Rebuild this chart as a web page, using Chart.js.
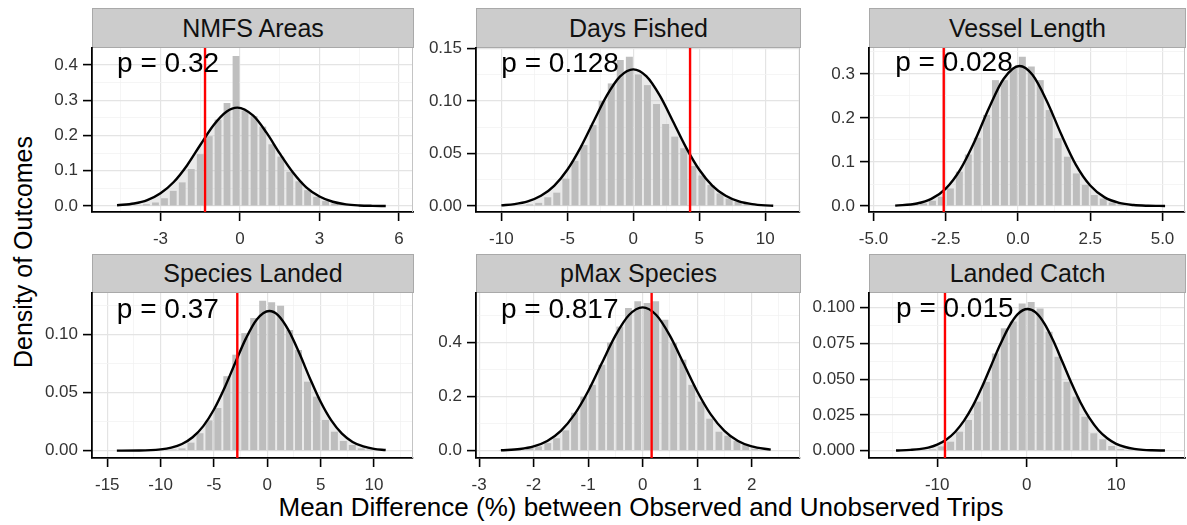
<!DOCTYPE html>
<html>
<head>
<meta charset="utf-8">
<script src="https://cdn.jsdelivr.net/npm/chart.js@4.4.0/dist/chart.umd.min.js"></script>
<style>
  html, body { margin: 0; padding: 0; background: #fff; overflow: hidden; }
  body { width: 1187px; height: 525px; position: relative; font-family: "Liberation Sans", Arial, sans-serif; }
  canvas { position: absolute; }
  .strip { position: absolute; box-sizing: border-box; background: #cccccc; border: 1px solid #a9a9a9;
           color: #111; font-size: 25px; text-align: center; white-space: nowrap; }
  .axis-title { position: absolute; font-size: 26px; color: #000; white-space: nowrap; }
</style>
</head>
<body>
<div class="axis-title" style="left:23px; top:252px; font-size:25px; transform: translate(-50%, -50%) rotate(-90deg);">Density of Outcomes</div>
<div class="axis-title" style="left:641px; top:507px; transform: translate(-50%, -50%);">Mean Difference (%) between Observed and Unobserved Trips</div>
<script>
// Facet text
const facetTitles = ['NMFS Areas', 'Days Fished', 'Vessel Length', 'Species Landed', 'pMax Species', 'Landed Catch'];
const pValueLabels = ['p = 0.32', 'p = 0.128', 'p = 0.028', 'p = 0.37', 'p = 0.817', 'p = 0.015'];
// Observed difference (red line) and where the p label sits, in data units
const observedDiffs = [-1.32, 4.3, -2.57, -2.81, 0.165, -9.13];
const pTextX = [-4.64, -10.0, -4.25, -14.1, -2.6, -14.6];
const pTextY = [0.403, 0.135, 0.324, 0.121, 0.519, 0.0991];

// NMFS Areas
const nmfsBins = [-4.54, -4.21, -3.87, -3.53, -3.19, -2.85, -2.52, -2.18, -1.84, -1.50, -1.16, -0.83, -0.49, -0.15, 0.19,
  0.53, 0.86, 1.20, 1.54, 1.88, 2.22, 2.55, 2.89, 3.23, 3.57, 3.91, 4.24, 4.58, 4.92, 5.26];
const nmfsDensity = [0.000, 0.001, 0.002, 0.005, 0.010, 0.022, 0.043, 0.067, 0.105, 0.147, 0.198, 0.245, 0.292, 0.425, 0.270,
  0.255, 0.225, 0.175, 0.140, 0.097, 0.070, 0.045, 0.026, 0.014, 0.007, 0.003, 0.001, 0.001, 0.000, 0.000];
const nmfsCurveX = [-4.64, -4, -3.5, -3, -2.5, -2, -1.5, -1, -0.5, -0.1, 0.5, 1, 1.5, 2, 2.5, 3, 3.5, 4, 4.5, 5, 5.5];
const nmfsCurveY = [0.002, 0.007, 0.0165, 0.036, 0.068, 0.115, 0.173, 0.229, 0.268, 0.279, 0.256, 0.208, 0.149, 0.095,
  0.053, 0.027, 0.012, 0.0046, 0.0016, 0.0005, 0.0001];

// Days Fished
const daysBins = [-9.92, -9.23, -8.54, -7.86, -7.17, -6.48, -5.80, -5.11, -4.42, -3.74, -3.05, -2.36, -1.67, -0.99, -0.30,
  0.39, 1.07, 1.76, 2.45, 3.14, 3.82, 4.51, 5.20, 5.88, 6.57, 7.26, 7.94, 8.63, 9.32, 10.01];
const daysDensity = [0.0000, 0.0003, 0.0006, 0.0015, 0.003, 0.0083, 0.0127, 0.026, 0.043, 0.058, 0.077, 0.100, 0.1166, 0.139, 0.142,
  0.125, 0.115, 0.097, 0.078, 0.066, 0.055, 0.038, 0.029, 0.020, 0.012, 0.007, 0.004, 0.002, 0.001, 0.0003];
const daysCurveX = [-10, -9, -8, -7, -6, -5, -4, -3, -2, -1, 0, 1, 2, 3, 4, 5, 6, 7, 8, 9, 10, 10.6];
const daysCurveY = [0.0006, 0.0018, 0.0044, 0.0097, 0.0192, 0.0345, 0.0556, 0.0807, 0.1052, 0.1233, 0.130, 0.1233,
  0.1052, 0.0807, 0.0556, 0.0345, 0.0192, 0.0097, 0.0044, 0.0018, 0.0006, 0.0003];

// Vessel Length
const vesselBins = [-4.20, -3.89, -3.58, -3.27, -2.96, -2.65, -2.34, -2.03, -1.72, -1.41, -1.09, -0.78, -0.47, -0.16, 0.15,
  0.46, 0.77, 1.08, 1.39, 1.71, 2.02, 2.33, 2.64, 2.95, 3.26, 3.57, 3.88, 4.19, 4.50, 4.82];
const vesselDensity = [0.001, 0.002, 0.004, 0.006, 0.012, 0.021, 0.040, 0.078, 0.117, 0.155, 0.207, 0.286, 0.286, 0.314, 0.339,
  0.317, 0.286, 0.218, 0.154, 0.112, 0.074, 0.048, 0.025, 0.017, 0.008, 0.004, 0.002, 0.001, 0.0005, 0.000];
const vesselCurveX = [-4.25, -3.5, -3, -2.5, -2, -1.5, -1, -0.5, 0.05, 0.5, 1, 1.5, 2, 2.5, 3, 3.5, 4, 4.5, 5.09];
const vesselCurveY = [0.0009, 0.0057, 0.0162, 0.0397, 0.0829, 0.1474, 0.2234, 0.2887, 0.318, 0.298, 0.2382, 0.1623,
  0.0942, 0.0466, 0.0196, 0.0071, 0.0022, 0.0006, 0.0001];

// Species Landed
const speciesBins = [-13.87, -13.03, -12.19, -11.35, -10.51, -9.67, -8.83, -7.99, -7.15, -6.31, -5.47, -4.63, -3.79, -2.95, -2.11,
  -1.27, -0.43, 0.41, 1.25, 2.09, 2.93, 3.77, 4.61, 5.45, 6.29, 7.13, 7.97, 8.81, 9.65, 10.49];
const speciesDensity = [0, 0, 0, 0.0002, 0.0005, 0.001, 0.001, 0.002, 0.0069, 0.015, 0.026, 0.0367, 0.064, 0.0825, 0.101,
  0.114, 0.1289, 0.1275, 0.1245, 0.1037, 0.0865, 0.0593, 0.0464, 0.0264, 0.0163, 0.0083, 0.0049, 0.002, 0.001, 0.0005];
const speciesCurveX = [-14.1, -12, -10, -9, -8, -7, -6, -5, -4, -3, -2, -1, 0.19, 1, 2, 3, 4, 5, 6, 7, 8, 9, 10, 11.1];
const speciesCurveY = [0.0000, 0.0001, 0.0011, 0.0026, 0.0057, 0.0115, 0.0211, 0.0354, 0.0541, 0.0756, 0.0965, 0.1126,
  0.120, 0.1165, 0.1034, 0.0839, 0.0621, 0.0420, 0.0260, 0.0146, 0.0075, 0.0036, 0.0015, 0.0006];

// pMax Species
const pmaxBins = [-2.57, -2.40, -2.24, -2.07, -1.91, -1.74, -1.58, -1.41, -1.25, -1.08, -0.92, -0.75, -0.59, -0.42, -0.26,
  -0.09, 0.08, 0.24, 0.41, 0.57, 0.74, 0.90, 1.07, 1.23, 1.40, 1.56, 1.73, 1.89, 2.06, 2.22];
const pmaxDensity = [0.001, 0.003, 0.006, 0.012, 0.016, 0.028, 0.046, 0.075, 0.140, 0.199, 0.243, 0.317, 0.399, 0.458, 0.527,
  0.552, 0.545, 0.552, 0.483, 0.397, 0.336, 0.243, 0.181, 0.118, 0.070, 0.055, 0.036, 0.021, 0.007, 0.003];
const pmaxCurveX = [-2.6, -2.25, -2, -1.75, -1.5, -1.25, -1, -0.75, -0.5, -0.25, 0, 0.25, 0.5, 0.75, 1, 1.25, 1.5, 1.75, 2, 2.35];
const pmaxCurveY = [0.0014, 0.0062, 0.0157, 0.0358, 0.0731, 0.1338, 0.2194, 0.3225, 0.4246, 0.5007, 0.529, 0.5007,
  0.4246, 0.3225, 0.2194, 0.1338, 0.0731, 0.0358, 0.0157, 0.0041];

// Landed Catch
const catchBins = [-14.5, -13.5, -12.5, -11.5, -10.5, -9.5, -8.5, -7.5, -6.5, -5.5, -4.5, -3.5, -2.5, -1.5, -0.5,
  0.5, 1.5, 2.5, 3.5, 4.5, 5.5, 6.5, 7.5, 8.5, 9.5, 10.5, 11.5, 12.5, 13.5, 14.5];
const catchDensity = [0, 0, 0.0002, 0.0005, 0.001, 0.003, 0.0063, 0.0133, 0.0215, 0.0343, 0.0482, 0.068, 0.0856, 0.0903, 0.103,
  0.104, 0.0995, 0.0832, 0.0657, 0.0482, 0.0378, 0.0238, 0.0122, 0.008, 0.0033, 0.0012, 0.0005, 0.0002, 0.0001, 0];
const catchCurveX = [-14.6, -13, -12, -11, -10, -9, -8, -7, -6, -5, -4, -3, -2, -1, 0.1, 1, 2, 3, 4, 5, 6, 7, 8, 9, 10, 11, 12, 13, 14, 15.45];
const catchCurveY = [0.0001, 0.0006, 0.0011, 0.0022, 0.0043, 0.0077, 0.0131, 0.021, 0.0315, 0.0445, 0.0591, 0.0737, 0.0865,
  0.0955, 0.0991, 0.0967, 0.0887, 0.0765, 0.0620, 0.0473, 0.0339, 0.0229, 0.0145, 0.0087, 0.0048, 0.0026, 0.0013, 0.0006, 0.0003, 0.0001];

// Axis limits and tick labels per facet
const xRanges = [[-5.585, 6.528], [-11.92, 12.63], [-5.156, 5.779], [-16.43, 13.66], [-3.057, 2.887], [-17.62, 17.69]];
const yRanges = [[-0.017, 0.448], [-0.0057, 0.1503], [-0.0136, 0.359], [-0.0063, 0.1355], [-0.027, 0.582], [-0.0051, 0.1103]];
const xMajorTicks = [[-3, 0, 3, 6], [-10, -5, 0, 5, 10], [-5, -2.5, 0, 2.5, 5], [-15, -10, -5, 0, 5, 10], [-3, -2, -1, 0, 1, 2], [-10, 0, 10]];
const xTickLabels = [['-3', '0', '3', '6'], ['-10', '-5', '0', '5', '10'], ['-5.0', '-2.5', '0.0', '2.5', '5.0'],
  ['-15', '-10', '-5', '0', '5', '10'], ['-3', '-2', '-1', '0', '1', '2'], ['-10', '0', '10']];
const yMajorTicks = [[0, 0.1, 0.2, 0.3, 0.4], [0, 0.05, 0.10, 0.15], [0, 0.1, 0.2, 0.3], [0, 0.05, 0.10], [0, 0.2, 0.4], [0, 0.025, 0.05, 0.075, 0.1]];
const yTickLabels = [['0.0', '0.1', '0.2', '0.3', '0.4'], ['0.00', '0.05', '0.10', '0.15'], ['0.0', '0.1', '0.2', '0.3'],
  ['0.00', '0.05', '0.10'], ['0.0', '0.2', '0.4'], ['0.000', '0.025', '0.050', '0.075', '0.100']];

const allBins = [nmfsBins, daysBins, vesselBins, speciesBins, pmaxBins, catchBins];
const allDensity = [nmfsDensity, daysDensity, vesselDensity, speciesDensity, pmaxDensity, catchDensity];
const allCurveX = [nmfsCurveX, daysCurveX, vesselCurveX, speciesCurveX, pmaxCurveX, catchCurveX];
const allCurveY = [nmfsCurveY, daysCurveY, vesselCurveY, speciesCurveY, pmaxCurveY, catchCurveY];

// Page layout (pixels): plot areas of the 3x2 grid
const colPlot = [[92, 413], [476, 800], [869, 1185]];
const rowPlot = [[48, 212], [293, 458]];
const stripTop = [8, 254];
const Y_AXIS_W = 60, X_AXIS_H = 40, RIGHT_PAD = 12;

Chart.defaults.font.family = '"Liberation Sans", Arial, sans-serif';
Chart.defaults.color = '#333333';

// major ticks plus ggplot-like minor grid between them
function buildTicks(majors, labels, lo, hi) {
  const step = majors[1] - majors[0];
  const out = [];
  if (majors[0] - step / 2 >= lo) out.push({ value: majors[0] - step / 2, isMajor: false, text: '' });
  majors.forEach((v, i) => {
    out.push({ value: v, isMajor: true, text: labels[i] });
    if (v + step / 2 <= hi) out.push({ value: v + step / 2, isMajor: false, text: '' });
  });
  return out;
}

// p label and the thin right border of each panel
const panelDecor = {
  id: 'panelDecor',
  afterDatasetsDraw(chart, args, opts) {
    const { ctx, chartArea, scales } = chart;
    ctx.save();
    ctx.strokeStyle = '#c4c4c4';
    ctx.lineWidth = 1;
    ctx.beginPath();
    ctx.moveTo(chartArea.right - 0.5, chartArea.top);
    ctx.lineTo(chartArea.right - 0.5, chartArea.bottom);
    ctx.stroke();
    ctx.font = '28px "Liberation Sans", Arial, sans-serif';
    ctx.fillStyle = '#000';
    ctx.textAlign = 'left';
    ctx.textBaseline = 'middle';
    ctx.fillText(opts.text, scales.x.getPixelForValue(opts.x), scales.y.getPixelForValue(opts.y));
    ctx.restore();
  }
};

function axisOptions(ticks, range, isX) {
  return {
    type: 'linear',
    min: range[0],
    max: range[1],
    offset: false,
    afterBuildTicks: s => { s.ticks = ticks.map(t => Object.assign({}, t)); },
    afterFit: s => { if (isX) s.height = X_AXIS_H; else s.width = Y_AXIS_W; },
    ticks: {
      autoSkip: false, maxRotation: 0, includeBounds: false,
      padding: isX ? 8 : 5,
      font: { size: 17 },
      color: '#333333',
      callback: (v, i, t) => (t[i] && t[i].text) || ''
    },
    grid: {
      offset: false,
      color: c => (c.tick && c.tick.isMajor) ? '#e4e4e4' : '#f2f2f2',
      lineWidth: c => (c.tick && c.tick.isMajor) ? 1.2 : 0.8,
      tickLength: 9,
      tickWidth: 1.6,
      tickColor: c => (c.tick && c.tick.isMajor) ? '#000' : 'rgba(0,0,0,0)'
    },
    border: { display: true, color: '#000', width: 1.8 }
  };
}

facetTitles.forEach((title, i) => {
  const col = i % 3, row = Math.floor(i / 3);
  const [L, R] = colPlot[col];
  const [T, B] = rowPlot[row];
  const sTop = stripTop[row];

  // facet strip
  const strip = document.createElement('div');
  strip.className = 'strip';
  strip.style.left = L + 'px';
  strip.style.top = sTop + 'px';
  strip.style.width = (R - L + 1) + 'px';
  strip.style.height = (T - sTop) + 'px';
  strip.style.lineHeight = (T - sTop - 2) + 'px';
  strip.textContent = title;
  document.body.appendChild(strip);

  const canvas = document.createElement('canvas');
  const w = Y_AXIS_W + (R - L) + RIGHT_PAD;
  const h = (T - sTop) + (B - T) + X_AXIS_H;
  canvas.width = w;
  canvas.height = h;
  canvas.style.width = w + 'px';
  canvas.style.height = h + 'px';
  canvas.style.left = (L - Y_AXIS_W) + 'px';
  canvas.style.top = sTop + 'px';
  document.body.appendChild(canvas);

  const xTicks = buildTicks(xMajorTicks[i], xTickLabels[i], xRanges[i][0], xRanges[i][1]);
  const yTicks = buildTicks(yMajorTicks[i], yTickLabels[i], yRanges[i][0], yRanges[i][1]);

  new Chart(canvas.getContext('2d'), {
    type: 'bar',
    data: {
      datasets: [
        {
          type: 'bar',
          data: allBins[i].map((b, k) => ({ x: b, y: allDensity[i][k] })),
          backgroundColor: '#bfbfbf',
          borderWidth: 0,
          barPercentage: 0.78,
          categoryPercentage: 1,
          order: 3
        },
        {
          type: 'line',
          data: allCurveX[i].map((x, k) => ({ x: x, y: allCurveY[i][k] })),
          borderColor: '#000',
          borderWidth: 2.4,
          pointRadius: 0,
          cubicInterpolationMode: 'monotone',
          fill: 'origin',
          backgroundColor: 'rgba(185,185,185,0.3)',
          order: 2
        },
        {
          type: 'line',
          data: [{ x: observedDiffs[i], y: yRanges[i][0] }, { x: observedDiffs[i], y: yRanges[i][1] }],
          borderColor: '#ff0000',
          borderWidth: 2.4,
          pointRadius: 0,
          fill: false,
          order: 1
        }
      ]
    },
    options: {
      responsive: false,
      animation: false,
      devicePixelRatio: 1,
      events: [],
      layout: { padding: { top: T - sTop, right: RIGHT_PAD, left: 0, bottom: 0 } },
      plugins: {
        legend: { display: false },
        tooltip: { enabled: false },
        panelDecor: { text: pValueLabels[i], x: pTextX[i], y: pTextY[i] }
      },
      scales: {
        x: axisOptions(xTicks, xRanges[i], true),
        y: axisOptions(yTicks, yRanges[i], false)
      }
    },
    plugins: [panelDecor]
  });
});
</script>
</body>
</html>
